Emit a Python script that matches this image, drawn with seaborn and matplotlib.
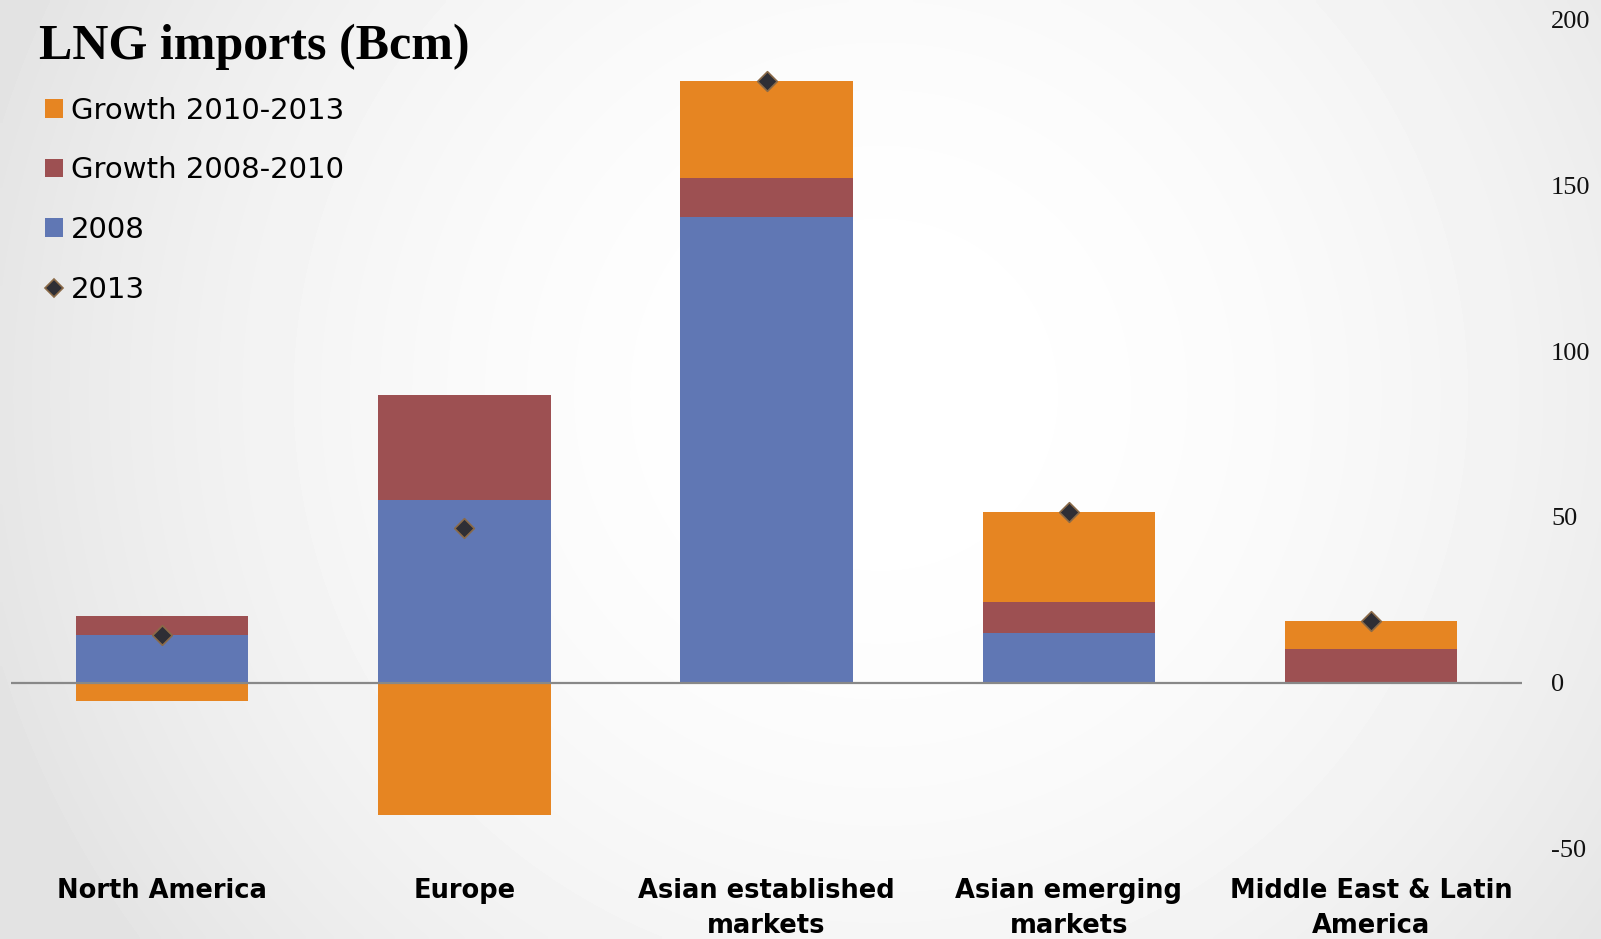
import numpy as np
import pandas as pd
import matplotlib
matplotlib.use("Agg")
import matplotlib.pyplot as plt
import seaborn as sns
from matplotlib.patches import Patch
from matplotlib.lines import Line2D

# ---- data ----
categories = ["North America", "Europe", "Asian established\nmarkets",
              "Asian emerging\nmarkets", "Middle East & Latin\nAmerica"]
base_2008 = [14.5, 55.0, 140.3, 15.0, 0.3]
growth_2008_2010 = [5.5, 31.8, 11.8, 9.3, 10.0]
growth_2010_2013 = [-5.5, -40.0, 29.4, 27.1, 8.2]
imports_2013 = [14.5, 46.8, 181.5, 51.4, 18.5]
y_ticks = [-50, 0, 50, 100, 150, 200]

series = [("2008", base_2008, "#6077B4"),
          ("Growth 2008-2010", growth_2008_2010, "#9D5052"),
          ("Growth 2010-2013", growth_2010_2013, "#E68522")]

sns.set_theme(style="white")
plt.rcParams["font.family"] = ["DejaVu Sans"]
plt.rcParams["text.color"] = "black"
plt.rcParams["xtick.color"] = "black"
plt.rcParams["ytick.color"] = "black"

W, H = 1601, 939
fig = plt.figure(figsize=(W / 100, H / 100), dpi=100)

# background gradient
bg = fig.add_axes([0, 0, 1, 1], zorder=-10)
yy, xx = np.mgrid[0:1:200j, 0:1:340j]
r = np.sqrt(((xx - 0.55) * 1.7) ** 2 + ((yy - 0.42) * 1.0) ** 2)
val = 1 - 0.11 * np.clip(r / 1.0, 0, 1) ** 2
bg.imshow(val, cmap="gray", vmin=0, vmax=1, extent=[0, 1, 0, 1],
          aspect="auto", origin="upper", interpolation="bilinear")
bg.axis("off")

top_px, bot_px = 19.5, 848.5
ax = fig.add_axes([11.2 / W, 1 - bot_px / H, (1522 - 11.2) / W, (bot_px - top_px) / H])
ax.set_facecolor("none")

df = pd.DataFrame({"cat": categories})
pos_bottom = np.zeros(len(categories))
neg_bottom = np.zeros(len(categories))
for name, vals, col in series:
    v = np.array(vals, dtype=float)
    bottom = np.where(v >= 0, pos_bottom, neg_bottom)
    sns.barplot(x=df["cat"], y=v, bottom=bottom, color=col, width=0.57,
                saturation=1, ax=ax, zorder=2, edgecolor="none", linewidth=0)
    pos_bottom = pos_bottom + np.where(v >= 0, v, 0)
    neg_bottom = neg_bottom + np.where(v < 0, v, 0)

ax.axhline(0, color="#888888", lw=1.6, zorder=3)

sns.scatterplot(x=np.arange(len(categories)), y=imports_2013, marker="D", s=100,
                color="#2e2e35", edgecolor="#8a6a48", linewidth=1.2, ax=ax, zorder=5,
                legend=False)

ax.set_xlim(-0.5, 4.5)
ax.set_ylim(-50, 200)
for s in ax.spines.values():
    s.set_visible(False)
ax.yaxis.tick_right()
ax.set_yticks(y_ticks)
ax.set_yticklabels([str(t) for t in y_ticks], family="Liberation Serif", fontsize=19,
                   color="#111111")
ax.tick_params(axis="y", length=0, pad=21)
ax.set_xticks(range(len(categories)))
ax.set_xticklabels(categories, fontsize=18.5, fontweight="bold", linespacing=1.42,
                   color="black")
ax.tick_params(axis="x", length=0, pad=21.5)
ax.set_xlabel("")
ax.set_ylabel("")
ax.grid(False)

fig.text(39 / W, 1 - 47 / H, "LNG imports (Bcm)", family="Liberation Serif",
         fontweight="bold", fontsize=36, va="center", ha="left", color="black")

handles = [Patch(facecolor="#E68522", edgecolor="none"),
           Patch(facecolor="#9D5052", edgecolor="none"),
           Patch(facecolor="#6077B4", edgecolor="none"),
           Line2D([], [], marker="D", linestyle="none", markersize=9,
                  markerfacecolor="#2e2e35", markeredgecolor="#8a6a48", markeredgewidth=1.2)]
labels = ["Growth 2010-2013", "Growth 2008-2010", "2008", "2013"]
fig.legend(handles, labels, loc="upper left", bbox_to_anchor=(45 / W, 1 - 97 / H),
           frameon=False, fontsize=21, handlelength=0.6, handleheight=0.6,
           handletextpad=0.3, labelspacing=1.08, borderpad=0, borderaxespad=0,
           labelcolor="black")

fig.savefig("out.png", dpi=100)
